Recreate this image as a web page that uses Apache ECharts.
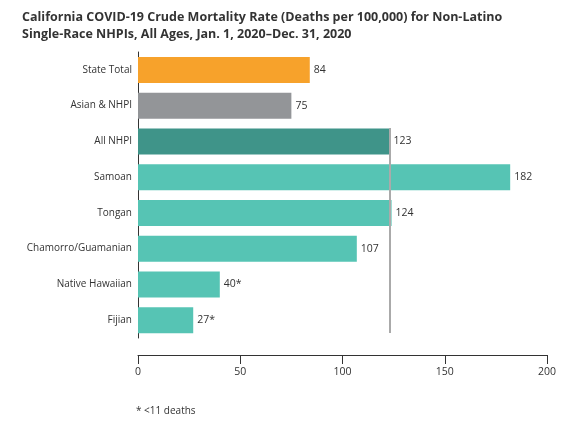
<!DOCTYPE html><html><head><meta charset="utf-8"><script src="https://cdn.jsdelivr.net/npm/echarts@6/dist/echarts.min.js"></script></head><body style="margin:0"><div id="c" style="width:572px;height:434px"></div><script>
const categories=['State Total','Asian & NHPI','All NHPI','Samoan','Tongan','Chamorro/Guamanian','Native Hawaiian','Fijian'];
const values=[84,75,123,182,124,107,40,27];
const labels=['84','75','123','182','124','107','40*','27*'];
const colors=['#F7A22B','#939598','#3F9489','#56C4B4','#56C4B4','#56C4B4','#56C4B4','#56C4B4'];
const ticks=[0,50,100,150,200];
const ch=echarts.init(document.getElementById('c'));
ch.setOption({
title:{text:'California COVID-19 Crude Mortality Rate (Deaths per 100,000) for Non-Latino\nSingle-Race NHPIs, All Ages, Jan. 1, 2020\u2013Dec. 31, 2020',left:17,top:4,textStyle:{fontFamily:'Open Sans',fontSize:12.5,fontWeight:'bold',color:'#333',lineHeight:17}},
graphic:[{type:'text',left:136,top:406,style:{text:'* <11 deaths',font:'10px "Open Sans"',fill:'#333'}}],
grid:{left:138,right:25,top:52,bottom:96},
xAxis:{type:'value',min:0,max:200,interval:50,offset:17,splitLine:{show:false},axisLine:{show:true,lineStyle:{color:'#333'}},axisTick:{show:true,length:9,inside:false,lineStyle:{color:'#333'}},axisLabel:{margin:12,fontFamily:'Open Sans',fontSize:10.5,color:'#333',formatter:v=>ticks.includes(v)?String(v):''}},
yAxis:{type:'category',inverse:true,data:categories,axisLine:{lineStyle:{color:'#333'}},axisTick:{show:false},axisLabel:{margin:6,fontFamily:'Open Sans',fontSize:10,color:'#333'}},
series:[{type:'bar',barWidth:26,data:values.map((v,i)=>({value:v,itemStyle:{color:colors[i]}})),
label:{show:true,position:'right',distance:4,fontFamily:'Open Sans',fontSize:10.5,color:'#333',formatter:p=>labels[p.dataIndex]},
markLine:{silent:true,symbol:'none',label:{show:false},lineStyle:{color:'#aaa',width:2,type:'solid'},data:[[{coord:[123,'All NHPI'],y:128},{coord:[123,'Fijian'],y:333}]]}}]
});
</script></body></html>
